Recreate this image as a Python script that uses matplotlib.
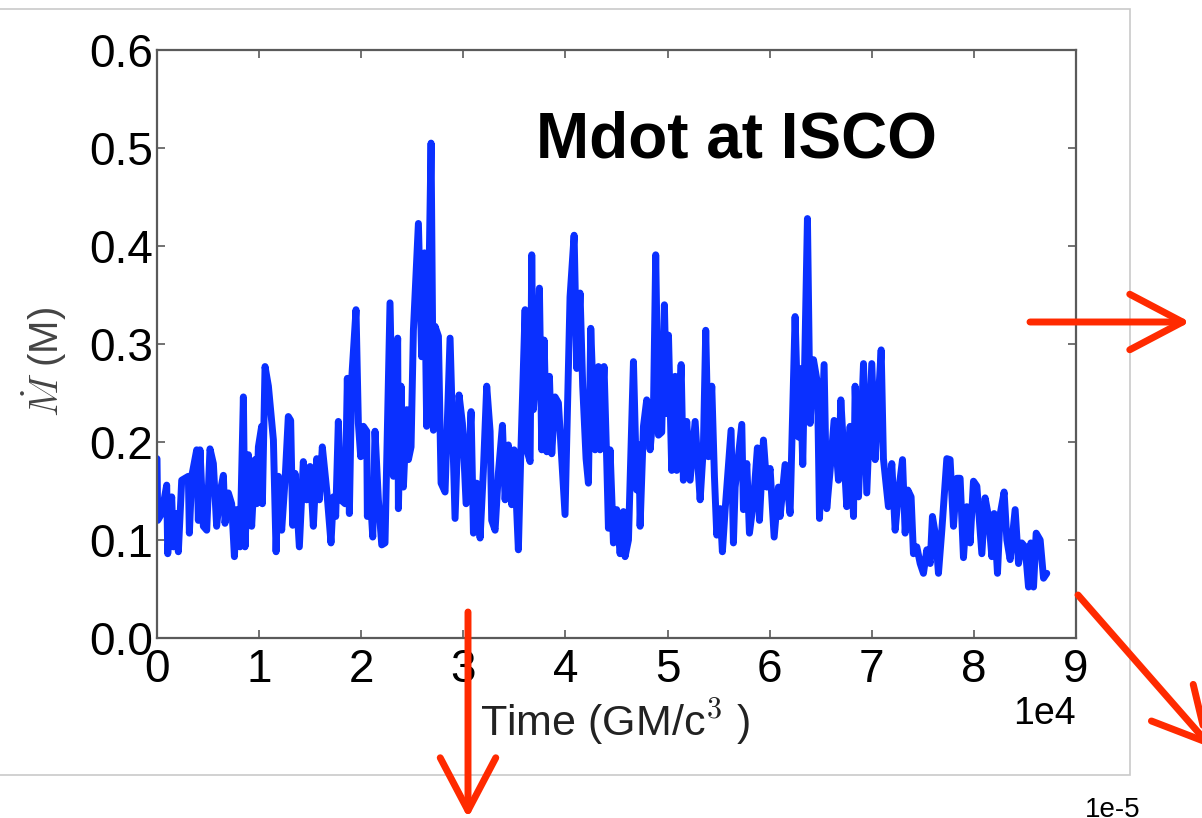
import matplotlib
matplotlib.use("Agg")
import matplotlib.pyplot as plt
from matplotlib.patches import FancyArrowPatch, Rectangle

plt.rcParams['font.family'] = ['Liberation Sans', 'DejaVu Sans']
plt.rcParams['mathtext.fontset'] = 'cm'

# ---- data ----
time = [
    0, 70, 460, 950, 1050, 1440, 1600, 1930, 2090, 2420, 2740, 3070, 3170, 3400, 3890, 4050,
    4210, 4540, 4870, 5190, 5520, 5840, 6170, 6500, 6660, 6990, 7310, 7580, 7800, 8130, 8460,
    8620, 8950, 9270, 9600, 9760, 9930, 10250, 10320, 10580, 10910,
    11400, 11660, 11890, 12210, 12540, 12860, 13090, 13290, 13520, 13940, 14330, 14660, 14990,
    15310, 15640, 15900, 16190, 16620, 17040, 17270, 17500, 17760, 17990, 18420, 18640, 18840,
    19070, 19490, 19720, 19950, 20210, 20540, 20600, 20860, 21130, 21350, 21680, 22010, 22330,
    22820, 23150, 23570, 23640, 23900, 24130, 24460, 24620, 24880, 25110, 25600, 25920, 26190,
    26410, 26840, 27070, 27230, 27560, 27820, 28210, 28700, 29190, 29580, 29910, 30270, 30760,
    30990, 31310, 31640, 31960, 32290, 32620, 32780, 33110, 33430, 33830,
    34090, 34410, 34740, 34970, 35390, 35620, 36050, 36210, 36540, 36700, 36860, 37190, 37450,
    37680, 37910, 38170, 38430, 38660, 38980, 39310, 39470, 39960, 40450, 40850, 41110, 41430,
    41690, 42020, 42250, 42480, 42900, 43230, 43390, 43780, 44050, 44210, 44370, 44700, 45020,
    45350, 45680, 45840, 46170, 46660, 46980, 47210, 47310, 47640, 47960, 48290, 48620, 48840,
    49110, 49430, 49690, 49920, 50090, 50410, 50740, 50900, 51330, 51550, 51880, 52210, 52700,
    53190, 53510, 53740, 54000, 54330, 54590, 54820, 55150, 55370, 55640, 56220, 56450,
    56620, 57270, 57430, 57760, 58020, 58410, 58800, 59000, 59390, 59720, 60040, 60440, 60860,
    61020, 61510, 62000, 62490, 62820, 62980, 63240, 63700, 63960, 64290, 64680, 64880, 65330,
    65590, 65920, 66310, 66740, 66970, 67550,
    67650, 67880, 68210, 68370, 68700, 69190, 69510, 70000, 70330, 70660, 70920, 71140, 71630,
    71960, 72290, 72610, 73010, 73270, 73530, 73850, 74080, 74410, 74740, 75060, 75390, 75720,
    75940, 76270, 76530, 76860, 77350, 77670, 78000, 78330, 78650, 78980,
    79310, 79630, 79960, 80290, 80610, 80780, 81100, 81430, 81760, 81980, 82310, 82570, 82960,
    83230, 83550, 84040, 84370, 84690, 85020, 85350, 85580, 85840, 86100, 86490, 86820, 87140,
]
mdot = [
    0.183, 0.120, 0.127, 0.156, 0.086, 0.144, 0.093, 0.127, 0.088, 0.161, 0.163, 0.165, 0.107,
    0.165, 0.192, 0.120, 0.192, 0.114, 0.110, 0.193, 0.178, 0.114, 0.148, 0.166, 0.117, 0.148,
    0.137, 0.083, 0.131, 0.093, 0.246, 0.093, 0.187, 0.114, 0.182, 0.137, 0.195, 0.216, 0.137,
    0.277, 0.257,
    0.202, 0.088, 0.165, 0.110, 0.161, 0.226, 0.222, 0.115, 0.168, 0.093, 0.180, 0.141, 0.175,
    0.114, 0.183, 0.141, 0.195, 0.151, 0.097, 0.144, 0.124, 0.221, 0.141, 0.137, 0.265, 0.127,
    0.265, 0.335, 0.219, 0.185, 0.216, 0.211, 0.124, 0.151, 0.103, 0.211, 0.141, 0.095, 0.097,
    0.342, 0.165, 0.306, 0.132, 0.257, 0.154, 0.233, 0.182, 0.195, 0.314, 0.423, 0.287, 0.393,
    0.216, 0.505, 0.212, 0.318, 0.308, 0.158, 0.149, 0.306, 0.122, 0.248, 0.219, 0.137, 0.231,
    0.107, 0.158, 0.102, 0.170, 0.257, 0.211, 0.120, 0.110, 0.168, 0.217,
    0.141, 0.197, 0.136, 0.192, 0.090, 0.185, 0.335, 0.192, 0.180, 0.391, 0.233, 0.284, 0.357,
    0.192, 0.304, 0.190, 0.267, 0.188, 0.246, 0.240, 0.212, 0.126, 0.348, 0.411, 0.275, 0.352,
    0.257, 0.183, 0.158, 0.316, 0.192, 0.277, 0.192, 0.277, 0.178, 0.112, 0.192, 0.097, 0.131,
    0.086, 0.129, 0.083, 0.100, 0.282, 0.151, 0.197, 0.114, 0.216, 0.243, 0.192, 0.233, 0.391,
    0.207, 0.210, 0.340, 0.229, 0.309, 0.171, 0.267, 0.171, 0.279, 0.161, 0.221, 0.161, 0.221,
    0.141, 0.195, 0.314, 0.185, 0.257, 0.165, 0.105, 0.132, 0.088, 0.131, 0.212, 0.097,
    0.154, 0.218, 0.131, 0.178, 0.107, 0.139, 0.194, 0.120, 0.202, 0.154, 0.173, 0.103, 0.154,
    0.124, 0.177, 0.127, 0.328, 0.205, 0.275, 0.177, 0.428, 0.219, 0.284, 0.260, 0.122, 0.279,
    0.132, 0.171, 0.222, 0.161, 0.243, 0.134,
    0.178, 0.216, 0.124, 0.257, 0.144, 0.280, 0.148, 0.280, 0.182, 0.246, 0.294, 0.183, 0.134,
    0.178, 0.110, 0.148, 0.182, 0.107, 0.151, 0.144, 0.086, 0.093, 0.076, 0.066, 0.090, 0.076,
    0.124, 0.103, 0.066, 0.110, 0.183, 0.182, 0.114, 0.163, 0.163, 0.082,
    0.134, 0.097, 0.160, 0.155, 0.110, 0.086, 0.143, 0.124, 0.083, 0.127, 0.066, 0.126, 0.149,
    0.100, 0.080, 0.131, 0.076, 0.097, 0.093, 0.052, 0.097, 0.052, 0.107, 0.100, 0.061, 0.066,
]
x_ticks = [0, 10000, 20000, 30000, 40000, 50000, 60000, 70000, 80000, 90000]
y_ticks = [0.0, 0.1, 0.2, 0.3, 0.4, 0.5, 0.6]

W, H = 1202, 818
fig = plt.figure(figsize=(W / 100, H / 100), dpi=100)
fig.patch.set_facecolor('white')

# slide frame
fig.patches.append(Rectangle((-0.01, 1 - 775 / H), 1130 / W + 0.01, (775 - 9) / H,
                             transform=fig.transFigure, fill=False,
                             edgecolor='#c9c9c9', linewidth=1.2, zorder=0))

ax = fig.add_axes([157 / W, 1 - 638 / H, (1076 - 157) / W, (638 - 50) / H])
ax.plot(time, mdot, color='#0a30ff', linewidth=5.0, solid_joinstyle='round',
        solid_capstyle='round')

ax.set_xlim(0, 90000)
ax.set_ylim(0.0, 0.6)
ax.set_xticks(x_ticks)
ax.set_yticks(y_ticks)
ax.ticklabel_format(style='sci', axis='x', scilimits=(0, 0))
ax.yaxis.set_major_formatter(matplotlib.ticker.FormatStrFormatter('%.1f'))

for s in ax.spines.values():
    s.set_color('#5a5a5a')
    s.set_linewidth(1.6)
ax.tick_params(direction='in', length=6, width=1.2, color='#5a5a5a',
               top=True, right=True, labelsize=33, labelcolor='black')
ax.tick_params(axis='x', pad=7)
ax.tick_params(axis='y', pad=3)
ax.xaxis.get_offset_text().set_fontsize(27)

ax.set_xlabel(r'Time (GM/c$^3$ )', fontsize=31, color='#222222', va='center')
ax.xaxis.set_label_coords(0.498, -0.143)
ax.set_ylabel(r'$\dot{M}$ (M)', fontsize=29, color='#444444', va='center')
ax.yaxis.set_label_coords(-0.122, 0.47)

fig.text(736 / W, 1 - 158 / H, 'Mdot at ISCO', fontsize=46, fontweight='bold',
         ha='center', va='baseline', color='black')

fig.text(1085 / W, 1 - 797 / H, '1e-5', fontsize=20, ha='left', va='top', color='black')

red = '#ff2a00'
def arrow(p0, p1):
    a = FancyArrowPatch((p0[0] / W, 1 - p0[1] / H), (p1[0] / W, 1 - p1[1] / H),
                        transform=fig.transFigure,
                        arrowstyle='->,head_length=3.8,head_width=2.0',
                        mutation_scale=10, color=red, linewidth=5,
                        shrinkA=0, shrinkB=0, zorder=10)
    fig.patches.append(a)

arrow((1030, 322), (1190, 322))
arrow((1078, 595), (1212, 748))
arrow((468, 612), (468, 818))

fig.savefig('out.png', dpi=100)
